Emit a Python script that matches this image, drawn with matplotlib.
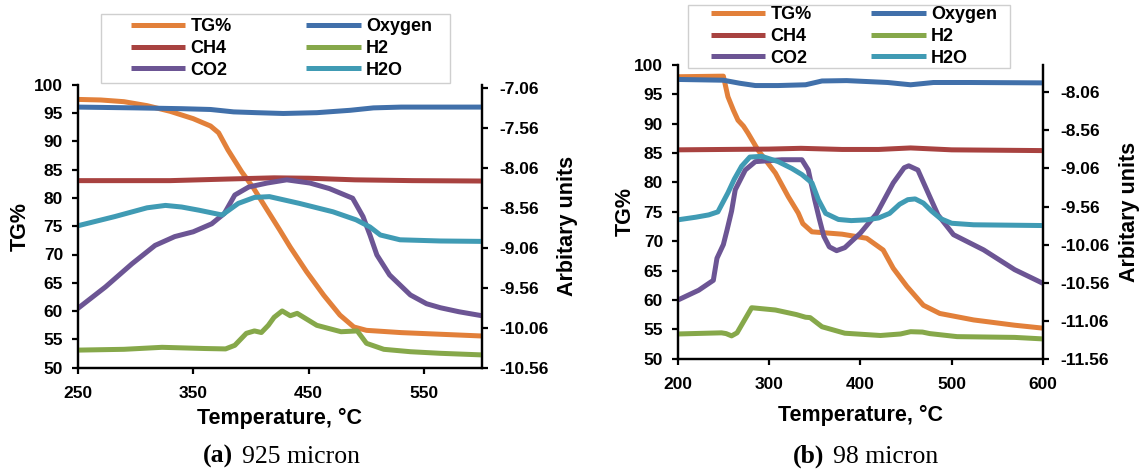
import matplotlib
matplotlib.use("Agg")
import matplotlib.pyplot as plt
from matplotlib.patches import Rectangle
from matplotlib.ticker import FixedLocator, FormatStrFormatter

plt.rcParams['font.family'] = ['Liberation Sans', 'DejaVu Sans']
plt.rcParams['font.weight'] = 'bold'
plt.rcParams['axes.labelweight'] = 'bold'

# ---------------- (a) 925 micron ----------------
a_tg_T = [250, 270, 290, 310, 330, 350, 365, 372, 380, 392, 402, 413, 425, 434, 448, 463, 477, 489, 500, 530, 565, 600]
a_tg = [97.4, 97.3, 97.0, 96.3, 95.3, 94.0, 92.7, 91.5, 88.5, 84.6, 81.8, 78.2, 74.3, 71.3, 67.0, 62.8, 59.3, 57.2, 56.6, 56.2, 55.9, 55.6]

a_o2_T = [250, 300, 340, 365, 385, 405, 428, 457, 486, 506, 530, 564, 600]
a_o2 = [-7.30, -7.31, -7.32, -7.33, -7.36, -7.37, -7.38, -7.37, -7.34, -7.31, -7.30, -7.30, -7.30]

a_ch4_T = [250, 330, 380, 420, 450, 490, 540, 600]
a_ch4 = [-8.22, -8.22, -8.20, -8.185, -8.19, -8.21, -8.22, -8.225]

a_h2_T = [250, 290, 323, 360, 378, 386, 396, 403, 409, 415, 420, 427, 434, 440, 457, 478, 492, 500, 515, 538, 564, 600]
a_h2 = [-10.34, -10.33, -10.305, -10.32, -10.325, -10.28, -10.13, -10.10, -10.12, -10.03, -9.93, -9.85, -9.91, -9.88,
        -10.03, -10.11, -10.10, -10.255, -10.33, -10.36, -10.38, -10.40]

a_co2_T = [250, 274, 297, 317, 334, 350, 366, 377, 386, 398, 414, 431, 451, 468, 488, 497, 503, 509, 520, 538, 552, 564, 580, 600]
a_co2 = [-9.82, -9.55, -9.26, -9.03, -8.92, -8.86, -8.76, -8.63, -8.40, -8.30, -8.25, -8.21, -8.25, -8.32, -8.44,
         -8.67, -8.90, -9.15, -9.40, -9.65, -9.76, -9.81, -9.86, -9.91]

a_h2o_T = [250, 282, 310, 326, 340, 355, 375, 389, 403, 416, 442, 471, 491, 503, 512, 529, 564, 600]
a_h2o = [-8.785, -8.67, -8.56, -8.53, -8.55, -8.59, -8.65, -8.505, -8.43, -8.42, -8.505, -8.61, -8.71, -8.80,
         -8.90, -8.96, -8.975, -8.98]

# ---------------- (b) 98 micron ----------------
b_tg_T = [200, 250, 255, 261, 266, 272, 277, 288, 307, 321, 332, 337, 347, 380, 407, 425, 436, 451, 469, 487, 524, 569, 600]
b_tg = [98.0, 98.1, 94.6, 92.3, 90.6, 89.6, 88.4, 85.5, 81.6, 77.6, 74.8, 73.0, 71.6, 71.2, 70.5, 68.5, 65.4, 62.3,
        59.1, 57.7, 56.6, 55.7, 55.2]

b_o2_T = [200, 250, 268, 285, 310, 340, 358, 385, 430, 455, 480, 520, 600]
b_o2 = [-7.89, -7.90, -7.94, -7.97, -7.97, -7.96, -7.91, -7.905, -7.93, -7.96, -7.93, -7.93, -7.935]

b_ch4_T = [200, 300, 335, 380, 420, 455, 500, 600]
b_ch4 = [-8.815, -8.805, -8.795, -8.81, -8.81, -8.79, -8.815, -8.825]

b_h2_T = [200, 248, 253, 259, 265, 281, 307, 330, 340, 345, 358, 383, 422, 444, 455, 468, 476, 506, 569, 600]
b_h2 = [-11.235, -11.22, -11.23, -11.26, -11.22, -10.89, -10.92, -10.98, -11.015, -11.02, -11.14, -11.225, -11.255,
        -11.235, -11.205, -11.21, -11.23, -11.27, -11.28, -11.30]

b_co2_T = [200, 223, 239, 243, 250, 254, 259, 263, 274, 285, 314, 336, 343, 350, 355, 360, 366, 374, 383, 400, 418,
           436, 448, 453, 463, 476, 485, 502, 535, 569, 600]
b_co2 = [-10.79, -10.66, -10.53, -10.24, -10.06, -9.87, -9.62, -9.34, -9.08, -8.97, -8.945, -8.945, -9.08, -9.47,
         -9.72, -9.95, -10.09, -10.14, -10.10, -9.91, -9.65, -9.25, -9.05, -9.025, -9.08, -9.43, -9.67, -9.93,
         -10.13, -10.39, -10.57]

b_h2o_T = [200, 220, 234, 244, 255, 262, 270, 279, 292, 310, 325, 336, 347, 354, 362, 376, 390, 407, 420, 432, 443,
           452, 460, 469, 478, 488, 500, 524, 600]
b_h2o = [-9.735, -9.70, -9.67, -9.63, -9.38, -9.20, -9.03, -8.91, -8.90, -8.97, -9.06, -9.14, -9.25, -9.47, -9.65,
         -9.73, -9.745, -9.735, -9.71, -9.65, -9.53, -9.47, -9.46, -9.515, -9.62, -9.72, -9.78, -9.80, -9.81]

labels = ['TG%', 'Oxygen', 'CH4', 'H2', 'CO2', 'H2O']
colors = ['#E2803A', '#4170AA', '#A84240', '#86A84A', '#6C5594', '#409BB4']

W, H = 1143, 471
fig = plt.figure(figsize=(W / 100, H / 100), dpi=100)


def rect(x0, y0, x1, y1):
    """Pixel box measured from the top-left corner -> figure-fraction rect."""
    return [x0 / W, 1 - y1 / H, (x1 - x0) / W, (y1 - y0) / H]


def ftext(x, y, s, **kw):
    """Text placed by pixel position measured from the top-left corner."""
    return fig.text(x / W, 1 - y / H, s, **kw)


LW = 3.6
TICK_FS = 12.5
LABEL_FS = 15.5


def panel(ax_box, xlim, xticks, y2lim, y2ticks, tg, gases, legend_box, legend_inner,
          ylab_x, xlab_y, caption_x, caption):
    ax = fig.add_axes(rect(*ax_box))
    ax2 = ax.twinx()

    handles = []
    T, v = tg
    h, = ax.plot(T, v, color=colors[0], lw=LW, solid_joinstyle='round', solid_capstyle='butt')
    handles.append(h)
    for (T, v), c in zip(gases, colors[1:]):
        h, = ax2.plot(T, v, color=c, lw=LW, solid_joinstyle='round', solid_capstyle='butt')
        handles.append(h)

    ax.set_xlim(*xlim)
    ax.set_ylim(50, 100)
    ax.xaxis.set_major_locator(FixedLocator(xticks))
    ax.yaxis.set_major_locator(FixedLocator(range(50, 101, 5)))
    ax2.set_ylim(*y2lim)
    ax2.yaxis.set_major_locator(FixedLocator(y2ticks))
    ax2.yaxis.set_major_formatter(FormatStrFormatter('%.2f'))

    for a in (ax, ax2):
        a.spines['top'].set_visible(False)
        for s in a.spines.values():
            s.set_linewidth(1.6)
            s.set_color('black')
        a.tick_params(width=1.6, length=4.5, labelsize=TICK_FS, direction='out')
        for t in a.get_xticklabels() + a.get_yticklabels():
            t.set_fontweight('bold')
    ax.tick_params(axis='x', pad=9)
    ax.tick_params(axis='y', pad=6)
    ax2.tick_params(axis='y', pad=8)

    x0, y0, x1, y1 = ax_box
    ymid = (y0 + y1) / 2
    xmid = (x0 + x1) / 2
    ftext(ylab_x[0], ymid, 'TG%', rotation=90, ha='center', va='center',
          fontsize=LABEL_FS, fontweight='bold')
    ftext(ylab_x[1], ymid, 'Arbitary units', rotation=90, ha='center', va='center',
          fontsize=LABEL_FS, fontweight='bold')
    ftext(xmid, xlab_y, 'Temperature, \u00b0C', ha='center', va='center',
          fontsize=LABEL_FS, fontweight='bold')

    # legend frame and entries
    fx0, fy0, fx1, fy1 = legend_box
    fig.patches.append(Rectangle((fx0 / W, 1 - fy1 / H), (fx1 - fx0) / W, (fy1 - fy0) / H,
                                 transform=fig.transFigure, facecolor='white', edgecolor='#CFCFCF',
                                 linewidth=1.0, zorder=5))
    order = [0, 2, 4, 1, 3, 5]
    lx0, lx1 = legend_inner
    leg = fig.legend([handles[i] for i in order], [labels[i] for i in order],
                     ncol=2, loc='center', mode='expand',
                     bbox_to_anchor=(lx0 / W, 1 - fy1 / H, (lx1 - lx0) / W, (fy1 - fy0) / H),
                     frameon=False, prop={'size': 13, 'weight': 'bold'}, handlelength=3.0,
                     handletextpad=0.3, labelspacing=0.25, borderpad=0, borderaxespad=0,
                     columnspacing=1.0)
    leg.set_zorder(6)

    # caption: bold panel letter followed by the regular description
    ftext(caption_x, 463, caption[0], ha='right', va='baseline',
          family='Liberation Serif', fontweight='bold', fontsize=18.5)
    ftext(caption_x + 9, 463, caption[1], ha='left', va='baseline',
          family='Liberation Serif', fontweight='normal', fontsize=18.5)
    return ax, ax2


panel((77.7, 84.7, 482, 367.7), (250, 600), [250, 350, 450, 550],
      (-10.56, -7.02), [-10.56 + 0.5 * k for k in range(8)],
      (a_tg_T, a_tg),
      [(a_o2_T, a_o2), (a_ch4_T, a_ch4), (a_h2_T, a_h2), (a_co2_T, a_co2), (a_h2o_T, a_h2o)],
      (101, 14, 450, 83), (131, 432), (20, 567), 418, 233, ('(a)', '925 micron'))

panel((677.7, 65, 1043, 358.7), (200, 600), [200, 300, 400, 500, 600],
      (-11.56, -7.70), [-11.56 + 0.5 * k for k in range(8)],
      (b_tg_T, b_tg),
      [(b_o2_T, b_o2), (b_ch4_T, b_ch4), (b_h2_T, b_h2), (b_co2_T, b_co2), (b_h2o_T, b_h2o)],
      (688, 5, 1010, 68), (711, 997), (625, 1130), 415, 824, ('(b)', '98 micron'))

fig.savefig('out.png', dpi=100)
